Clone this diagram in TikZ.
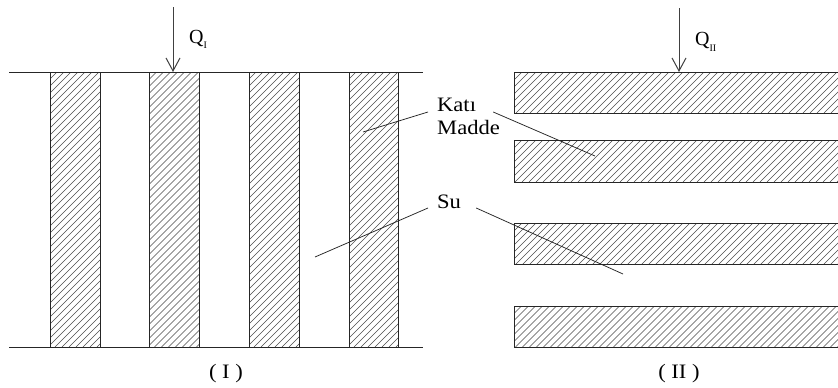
\documentclass[tikz,border=0pt]{standalone}
\usepackage{fontspec}
\setmainfont{Liberation Serif}[FakeStretch=1.1]
\newfontfamily\plainserif{Liberation Serif}
\usetikzlibrary{arrows.meta,calc}

% hatched box, all four sides outlined: x1,y1,x2,y2
\newcommand\hatchbox[4]{%
  \begin{scope}
    \clip (#1,#2) rectangle (#3,#4);
    \pgfmathsetmacro\hh{#4-#2}
    \pgfmathtruncatemacro\nn{(#3-#1+\hh)/7+1}
    \foreach \k in {0,...,\nn}{\draw[hatchline] ({#1-\hh+7*\k},#4) -- ++(\hh,-\hh);}
  \end{scope}
  \draw[edge] (#1,#2) rectangle (#3,#4);
}
% hatched strip running off the right border: x1,y1,x2,y2
\newcommand\hatchstrip[4]{%
  \begin{scope}
    \clip (#1,#2) rectangle (#3,#4);
    \pgfmathsetmacro\hh{#4-#2}
    \pgfmathtruncatemacro\nn{(#3-#1+\hh)/7+1}
    \foreach \k in {0,...,\nn}{\draw[hatchline] ({#1-\hh+7*\k},#4) -- ++(\hh,-\hh);}
  \end{scope}
  \draw[edge] (#3,#2) -- (#1,#2) -- (#1,#4) -- (#3,#4);
}

\begin{document}
\begin{tikzpicture}[x=1pt,y=-1pt,
  edge/.style={line width=1pt,draw=black!85},
  hatchline/.style={line width=0.6pt,draw=black!70},
  leader/.style={line width=0.75pt,draw=black!85},
  lbl/.style={inner sep=0pt,anchor=base west,font=\fontsize{20.5}{24}\selectfont},
  caption/.style={inner sep=0pt,anchor=base,font=\fontsize{20.5}{24}\selectfont},
  qlbl/.style={inner sep=0pt,anchor=base west,font=\plainserif\fontsize{20}{24}\selectfont},
  load/.style={line width=1pt,draw=black!75,-{Straight Barb[length=13pt,width=14pt,line width=1pt]}}
]
\useasboundingbox (0,0) rectangle (838,388);
\fill[white] (0,0) rectangle (838,388);

% panel (I): vertical solid layers between two plates
\hatchbox{50}{72}{100}{347}
\hatchbox{149.5}{72}{199.5}{347}
\hatchbox{249}{72}{299}{347}
\hatchbox{349}{72}{398}{347}
\draw[edge] (9,72) -- (423,72);
\draw[edge] (9,347) -- (423,347);

% panel (II): horizontal solid layers
\hatchstrip{514.5}{72.5}{838}{113}
\hatchstrip{514.5}{140.5}{838}{182}
\hatchstrip{514.5}{223.5}{838}{264.5}
\hatchstrip{514.5}{306}{838}{347}

% heat flow arrows
\coordinate (q1top) at (173,7);
\coordinate (q1bot) at (173,72);
\coordinate (q2top) at (679,8);
\coordinate (q2bot) at (679,72);
\draw[load] (q1top) -- (q1bot);
\draw[load] (q2top) -- (q2bot);
\node[qlbl] (qone) at (189,43) {Q\raisebox{-5pt}{\fontsize{10}{10}\selectfont I}};
\node[qlbl] (qtwo) at (695,45) {Q\raisebox{-6pt}{\fontsize{10}{10}\selectfont II}};

% labels
\node[lbl] (kati) at (437,111) {Katı};
\node[lbl] (madde) at (437,134.5) {Madde};
\node[lbl] (su) at (437,208.5) {Su};

\coordinate (k1) at (363,132);
\coordinate (k2) at (595,156);
\coordinate (s1) at (315,257);
\coordinate (s2) at (623,274);
\draw[leader] ($(kati.base west)+(-9,1)$) -- (k1);
\draw[leader] ($(kati.base east)+(17,1)$) -- (k2);
\draw[leader] ($(su.base west)+(-9,-0.5)$) -- (s1);
\draw[leader] ($(su.base east)+(15,-0.5)$) -- (s2);

% captions
\node[caption] (capone) at (226,378.5) {( I )};
\node[caption] (captwo) at (679,378.5) {( II )};
\end{tikzpicture}
\end{document}
